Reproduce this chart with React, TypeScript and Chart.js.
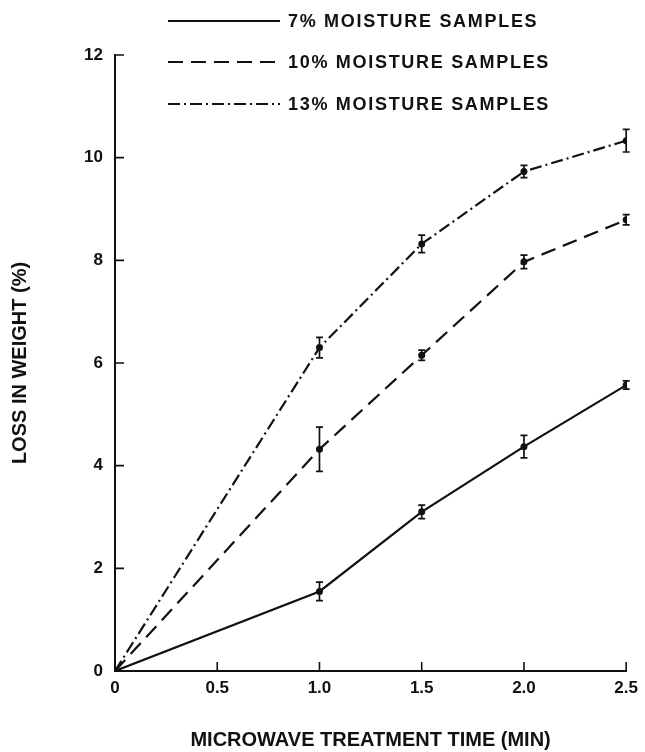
import React, { useEffect, useRef } from "react";
import { Chart, registerables } from "chart.js";

Chart.register(...registerables);

// ---- data ----
const times = [0, 1.0, 1.5, 2.0, 2.5];
const moisture7 = [0, 1.55, 3.1, 4.37, 5.57];
const error7 = [0, 0.18, 0.13, 0.22, 0.08];
const moisture10 = [0, 4.32, 6.15, 7.97, 8.79];
const error10 = [0, 0.43, 0.1, 0.13, 0.1];
const moisture13 = [0, 6.3, 8.32, 9.73, 10.33];
const error13 = [0, 0.2, 0.17, 0.12, 0.22];
const seriesLabels = ["7% MOISTURE SAMPLES", "10% MOISTURE SAMPLES", "13% MOISTURE SAMPLES"];
const xTickLabels = ["0", "0.5", "1.0", "1.5", "2.0", "2.5"];
const yTickLabels = ["0", "2", "4", "6", "8", "10", "12"];

// ---- styling / layout constants ----
const FONT = "'Liberation Sans', Arial, Helvetica, sans-serif";
const INK = "#111";
const LEGEND_LINE_START = 168;
const LEGEND_LINE_END = 280;
const LEGEND_TEXT_X = 288;
const LEGEND_ROWS = [21, 62, 104];

const errorBarPlugin = {
  id: "errorBars",
  afterDatasetsDraw(chart: any) {
    const { ctx, scales } = chart;
    const xs = scales.x;
    const ys = scales.y;
    ctx.save();
    ctx.strokeStyle = INK;
    ctx.lineWidth = 1.7;
    ctx.setLineDash([]);
    chart.data.datasets.forEach((ds: any) => {
      const errs: number[] = ds.errors || [];
      ds.data.forEach((pt: any, i: number) => {
        const e = errs[i];
        if (!e) return;
        const px = xs.getPixelForValue(pt.x);
        const top = ys.getPixelForValue(pt.y + e);
        const bot = ys.getPixelForValue(pt.y - e);
        ctx.beginPath();
        ctx.moveTo(px, top);
        ctx.lineTo(px, bot);
        ctx.moveTo(px - 3.5, top);
        ctx.lineTo(px + 3.5, top);
        ctx.moveTo(px - 3.5, bot);
        ctx.lineTo(px + 3.5, bot);
        ctx.stroke();
      });
    });
    ctx.restore();
  },
};

const inwardTicksPlugin = {
  id: "inwardTicks",
  afterDraw(chart: any) {
    const { ctx, scales, chartArea } = chart;
    ctx.save();
    ctx.strokeStyle = INK;
    ctx.lineWidth = 1.6;
    ctx.setLineDash([]);
    ctx.beginPath();
    scales.y.ticks.forEach((t: any) => {
      if (t.value === 0) return;
      const py = scales.y.getPixelForValue(t.value);
      ctx.moveTo(chartArea.left, py);
      ctx.lineTo(chartArea.left + 9, py);
    });
    scales.x.ticks.forEach((t: any) => {
      if (t.value === 0) return;
      const px = scales.x.getPixelForValue(t.value);
      ctx.moveTo(px, chartArea.bottom);
      ctx.lineTo(px, chartArea.bottom - 9);
    });
    ctx.stroke();
    ctx.restore();
  },
};

const customLegendPlugin = {
  id: "customLegend",
  afterDraw(chart: any) {
    const { ctx } = chart;
    ctx.save();
    chart.data.datasets.forEach((ds: any, i: number) => {
      const y = LEGEND_ROWS[i];
      ctx.strokeStyle = INK;
      ctx.lineWidth = 2.2;
      ctx.setLineDash(ds.borderDash || []);
      ctx.beginPath();
      ctx.moveTo(LEGEND_LINE_START, y);
      ctx.lineTo(LEGEND_LINE_END, y);
      ctx.stroke();
      ctx.setLineDash([]);
      ctx.fillStyle = INK;
      ctx.font = `bold 18px ${FONT}`;
      (ctx as any).letterSpacing = "1.7px";
      ctx.textBaseline = "middle";
      ctx.textAlign = "left";
      ctx.fillText(ds.label, LEGEND_TEXT_X, y + 1);
    });
    ctx.restore();
  },
};

function makeSeries(values: number[]) {
  return times.map((t, i) => ({ x: t, y: values[i] }));
}

export default function App() {
  const canvasRef = useRef<HTMLCanvasElement | null>(null);

  useEffect(() => {
    if (!canvasRef.current) return;
    const pointRadius = times.map((t) => (t === 0 ? 0 : 3.5));
    const common = {
      borderColor: INK,
      backgroundColor: INK,
      borderWidth: 2.2,
      pointRadius,
      pointBackgroundColor: INK,
      pointBorderColor: INK,
      pointBorderWidth: 0,
      tension: 0,
      fill: false,
    };
    const chart = new Chart(canvasRef.current, {
      type: "line",
      data: {
        datasets: [
          { ...common, label: seriesLabels[0], data: makeSeries(moisture7), errors: error7, borderDash: [] },
          { ...common, label: seriesLabels[1], data: makeSeries(moisture10), errors: error10, borderDash: [15, 8] },
          { ...common, label: seriesLabels[2], data: makeSeries(moisture13), errors: error13, borderDash: [12, 4, 2, 4] },
        ] as any,
      },
      options: {
        animation: false,
        responsive: false,
        maintainAspectRatio: false,
        layout: { padding: { top: 55, right: 14, left: 0, bottom: 0 } },
        plugins: {
          legend: { display: false },
          tooltip: { enabled: false },
          title: { display: false },
        },
        scales: {
          x: {
            type: "linear",
            min: 0,
            max: 2.5,
            afterFit: (s: any) => {
              s.height = 81;
            },
            ticks: {
              stepSize: 0.5,
              callback: (_v: any, i: number) => xTickLabels[i],
              color: INK,
              font: { family: FONT, size: 17, weight: "bold" },
              padding: 7,
              maxRotation: 0,
              autoSkip: false,
            },
            grid: { display: false, drawTicks: false },
            border: { display: true, color: INK, width: 2 },
            title: {
              display: true,
              text: "MICROWAVE TREATMENT TIME (MIN)",
              color: INK,
              font: { family: FONT, size: 20, weight: "bold" },
              padding: { top: 0, bottom: 0 },
            },
          },
          y: {
            type: "linear",
            min: 0,
            max: 12,
            afterFit: (s: any) => {
              s.width = 115;
            },
            ticks: {
              stepSize: 2,
              callback: (_v: any, i: number) => yTickLabels[i],
              color: INK,
              font: { family: FONT, size: 17, weight: "bold" },
              padding: 12,
              autoSkip: false,
            },
            grid: { display: false, drawTicks: false },
            border: { display: true, color: INK, width: 2 },
            title: {
              display: true,
              text: "LOSS IN WEIGHT (%)",
              color: INK,
              font: { family: FONT, size: 20, weight: "bold" },
              padding: { top: 8, bottom: 0 },
            },
          },
        },
      } as any,
      plugins: [errorBarPlugin, inwardTicksPlugin, customLegendPlugin],
    });
    return () => chart.destroy();
  }, []);

  return (
    <div style={{ position: "absolute", left: 0, top: 0, width: 645, height: 752, background: "#fff" }}>
      <canvas ref={canvasRef} width={645} height={752} style={{ display: "block" }} />
    </div>
  );
}
